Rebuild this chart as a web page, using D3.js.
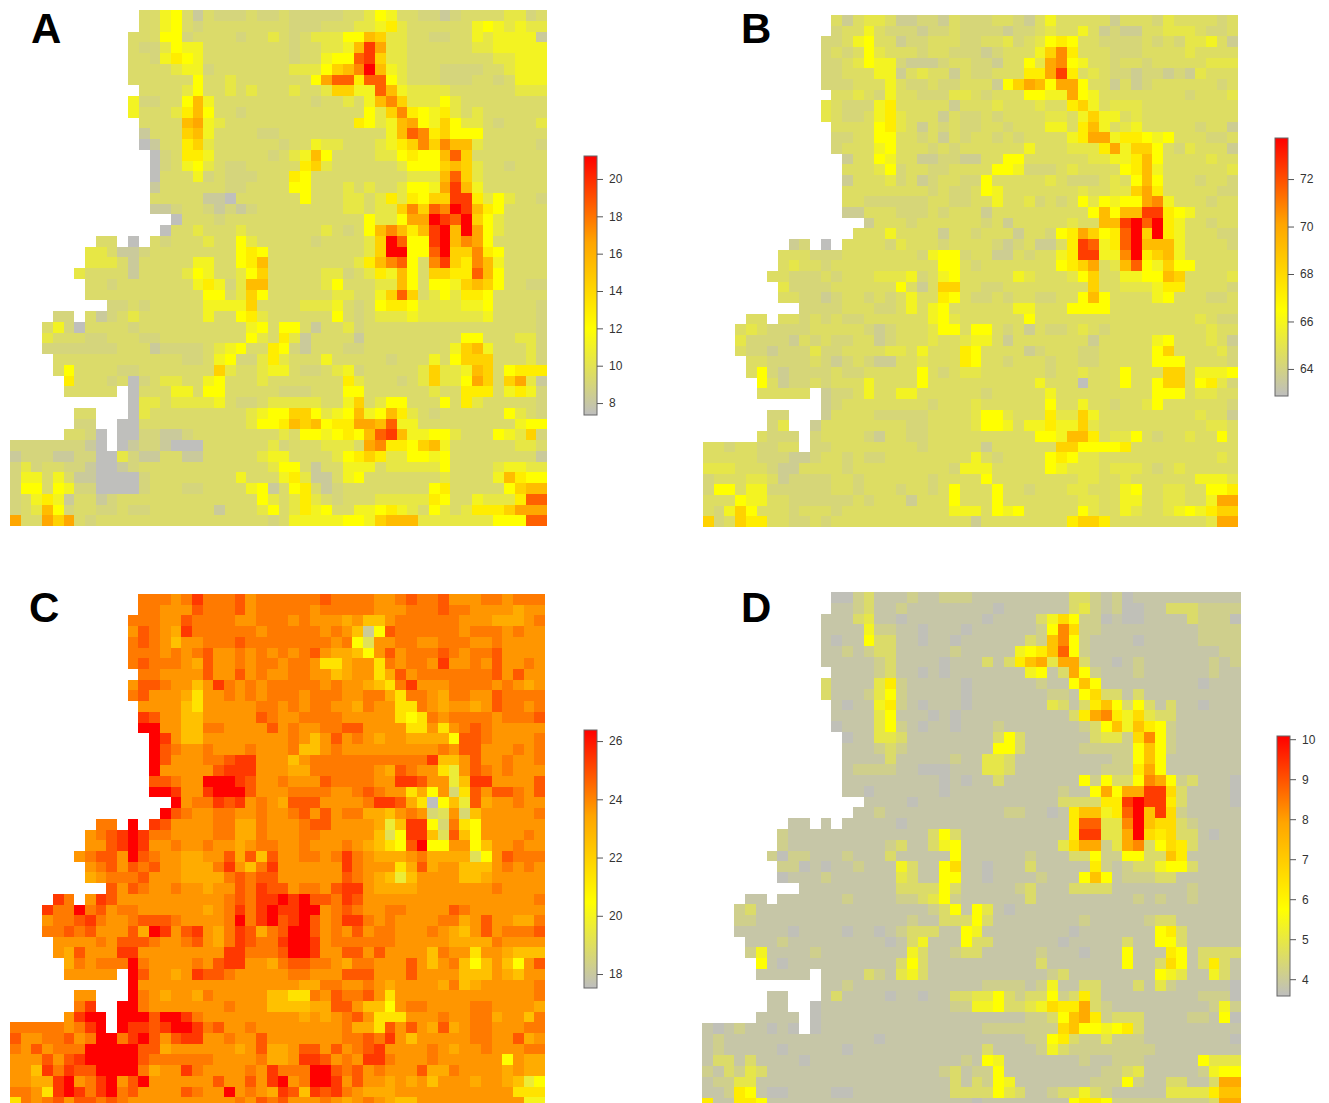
<!DOCTYPE html>
<html>
<head>
<meta charset="utf-8">
<title>Four gridded maps</title>
<script src="https://cdn.jsdelivr.net/npm/d3@7"></script>
<style>
html, body { margin: 0; padding: 0; background: #fff; overflow: hidden; }
svg { display: block; }
.letter { font-family: "Liberation Sans", Arial, sans-serif; font-weight: bold; font-size: 42px; fill: #000; }
.tick text { font-family: "Liberation Sans", Arial, sans-serif; font-size: 12px; fill: #333; }
.tick line { stroke: #555; }
</style>
</head>
<body>
<div id="chart"></div>
<script>
// each row is 50 cells, split in groups of 10. "." = no data, other chars index the levels array of that panel
var levelCodes = "0123456789abcde";

var levelsA = [7.4, 8.2, 9.0, 9.4, 10.3, 11.1, 12.0, 12.9, 14.3, 15.4, 16.5, 17.4, 18.5, 19.6, 21.2];
var levelsB = [62.9, 63.7, 64.2, 64.6, 65.1, 65.8, 66.5, 67.2, 68.3, 69.2, 70.0, 70.7, 71.6, 72.4, 73.7];
var levelsC = [17.5, 18.1, 18.7, 19.1, 19.6, 20.0, 20.5, 21.4, 22.5, 23.2, 23.7, 24.2, 24.8, 25.4, 26.4];
var levelsD = [3.65, 3.84, 4.15, 4.55, 4.9, 5.35, 5.75, 6.2, 6.6, 7.2, 7.8, 8.3, 8.8, 9.3, 10.1];

var ticksA = [8, 10, 12, 14, 16, 18, 20];
var ticksB = [64, 66, 68, 70, 72];
var ticksC = [18, 20, 22, 24, 26];
var ticksD = [4, 5, 6, 7, 8, 9, 10];

var gridA = [
".......... ..33563132 2232232222 2334653322 1233334423",
".......... ..33563233 3333332223 3344574333 3335654544",
".......... .333662333 3233432344 4669844332 2335455551",
".......... .322465533 3333332334 459da44333 3334455555",
".......... .332576533 3333332335 66cd844333 3333344555",
".......... .333345523 3333334446 89be954333 2222334555",
".......... .333333633 433333336a cc7cc64333 2223323555",
".......... ..33334633 4343334334 8855c95444 4333333444",
".......... .522336953 3333333323 34359b8444 6433333333",
".......... .533347963 3233333333 333648b765 7434333333",
".......... ..33339a54 3333333333 3376459a65 8644323334",
".......... ..13338953 3332233333 3333359cb7 8666333333",
".......... ..01337843 3333323354 43334578b8 b994333332",
".......... ...0237753 3333234596 3333446766 9c83333333",
".......... ...0235643 2233333784 3333334666 8984332333",
".......... ...0333523 2223337633 3333333444 9c84333333",
".......... ...1333333 2233336633 3434334665 ad95333333",
".......... ...3333311 0333333633 3443474768 8dd7464332",
".......... ...1123321 2123333333 3443448b8c bed9763333",
".......... .....03332 3333333333 3336446aae dce8643333",
".......... ....033433 3433333334 32369b979d e9ea643333",
"........33 .0.3233343 3643333323 33348ec66d e9ba633333",
".......443 1123333333 3676333333 33348ee66c e88b763333",
".......444 3133333553 3679333333 33479bc63b d87b953333",
"......4333 3133334653 3468333334 4234759638 877c963333",
".......332 3333333575 2499333334 6333449636 6589863322",
".......333 3333333366 3486333333 443358c834 6477633333",
".........2 2323333355 5583333444 5323677644 4455633332",
"....22.312 3433333353 3674333333 6323444544 4444533332",
"...3520333 3233333333 3356366313 3423333333 3333333332",
"...4333223 3322333333 3364374133 3313333333 3366333442",
"...2222222 3331222234 5633762133 3223333333 3589533342",
"....333333 3333332235 6224743335 3333323335 3688833342",
"....363333 2233333338 4334553223 4523333348 4459836777",
".....73332 3023443356 3334333333 3743332348 446a838a41",
".....33333 .033355366 3333322233 3663333334 3377735752",
".......... .044344445 3223444443 3583466333 6374333332",
"......33.. .043333333 3345668864 5695697432 3333336432",
"......22.. 0033333333 3346679896 77aa9c5533 3333333566",
".....3320. 0022112333 3333343665 6769cd9556 6433365482",
"222222210. 0122100033 3333423334 443ab77689 5333333443",
"1222112200 4211331133 3334553333 4678744665 6333333331",
"2423322100 1233333333 3333466313 3555344444 6333345544",
"2553531100 0023333333 3533357411 3563333333 4333359766",
"2663652200 0023332233 3356136731 2333333336 7333336899",
"2357513312 3333333333 3336434743 2333444447 63354447cc",
"2349623322 3223333331 3334634756 3355675436 4347778aaa",
"a33a8a3233 3333333333 3333235555 5665899944 44444666cc"
];

var gridB = [
".......... ..31344311 2213222332 1353333313 3324333323",
".......... ..23353222 1223222212 2343353121 1334443223",
".......... .223563312 2333223342 3467633222 2323244531",
".......... .232364333 2332221233 358b733322 2333343333",
".......... .223465521 1123322133 64ab653323 3233333444",
".......... .223335513 4331322333 77ad734322 1221214333",
".......... .222333532 2322333168 a96aa63313 1233333323",
".......... ..33432533 2224432333 6655a65333 3333323334",
".......... .432225733 3331333433 3433785344 4333333333",
".......... .432235743 3313223233 3344358553 4333333333",
".......... ..33336743 1323223323 3355379534 5333332331",
".......... ..22336633 2313233232 333357aa57 7656333223",
".......... ..23335633 3232333333 53334447a5 8863243331",
".......... ...1336533 1122113366 3333334455 7963333433",
".......... ...3334623 3223333665 2223433336 7953333334",
".......... ...1333423 1233226333 3343222343 6963332332",
".......... ...3333333 3232236533 3333343344 8a73333322",
".......... ...3322222 2332233533 4232364656 6ab5333233",
".......... ...1133322 2323331333 3333336969 9dd7653333",
".......... .....13332 3333332313 333343399d ece7533233",
".......... ....333533 3313323331 33267a867c e8e7533322",
"........12 .0.3333243 3323333212 31137dc57c e999533332",
".......333 2223333333 2566233113 23357dd55b e789533333",
".......343 3233333333 3366323333 333678a349 c658663333",
"......3322 2323334445 2356333335 4333468335 5669833334",
".......422 2233333363 1388332233 3333338334 4457733332",
".......332 2123323235 3376322323 3223369633 3356333223",
".........2 2223332235 3563333335 5333666633 3333333333",
"....33.332 3232233333 3564333333 6333333333 3333334322",
"...3432222 3333321233 3466366323 1322343233 3333333433",
"...4222213 2322331233 3433455313 3333331333 3356333431",
"...3221222 4223333443 5333763333 1233322333 3368333342",
"....332222 3212321133 4333763323 3323322333 3366633332",
"....362122 2232233333 6323443333 3323343336 3338835556",
".....63122 3233353333 6333333333 3533303336 3368836742",
".....33333 .122353355 3333332333 3353333333 3366634433",
".......... .123333333 3233343333 3363353323 3463333332",
"......22.. .133332222 2333346643 3374485333 3333334331",
"......24.. 1333333332 2333346653 5575584333 3333333443",
".....3222. 2333321332 2333333333 3665997344 6323343363",
"332332233. 2233333333 2333331333 3338866667 3333333333",
"3333322211 2332322333 3333353233 3367644333 3333333343",
"4443332113 3332333333 3332555333 3365444344 4323433333",
"2333443122 2233233333 3233336333 3333344334 3333335554",
"2663552222 2233233323 3236333633 2333443335 6334433667",
"3336553322 2222323331 3336333633 3333344335 53344335aa",
"3258633323 3323333333 3335553656 3333364335 4334565788",
"8238773322 3233333333 3333313333 3333788733 33333334aa"
];

var gridC = [
".......... ..bbbabdbb bcabbbbbbc bbbbaabcbb caaabbabbb",
".......... ..bbaaacbb bcabbbbbab bbbbaaabbb cbbaaaa9aa",
".......... .bbbaacbbb baabbbabaa a9a88abbbb bbaaa999ab",
".......... .acba9dbbb bbbabbbbba ba816cbbbb bbabbbabaa",
".......... .bcba8aabb bcbbbbbbbb ab63aabbaa bbbaabaaaa",
".......... .bbbababca ababababca 9986acabbb cbabbcaaaa",
".......... .bcbbba9ca ababbabba7 79aa7babba daabacaaba",
".......... ..bbaaaaca acabaabbaa 89aa79cabb bbbbbcacaa",
".......... .accbaa8ad bababbbbba baa987bdaa abbbbaba9a",
".......... .bcaaa97aa bababbbabb baabb97bba 9bbaacbbbb",
".......... ..aaaa87aa aaabbababb aa9baa77ba 9aa9acbbab",
".......... ..dcaa88aa aaacbaabbb baaaaa767b abbbbabbbc",
".......... ..eeaa88bb aaaacabaab bccaaaa77a 7abcbaaaaa",
".......... ...eda88aa aaaaaaba8a caba9aa999 96ccbaaaab",
".......... ...ecbaaba aabaaab88a baaaaaaaaa baccaaabab",
".......... ...ecaaabb cddaaa8abb bbbbbbbbbd 88acaabaab",
".......... ...eaaaaac dddaaa99bb bbbba9cbaa 74acbabaaa",
".......... ...ccbaaee edcaabaaac bbbbaaddca a48ddaaaac",
".......... ...eedaade eecaaabbbb aabcbaa796 a27caccbac",
".......... .....eabbd cdaba9ccca aaabddc970 684c9aabaa",
".......... ....ecbaab baabaabcac abb998aba2 3a28aaaaab",
"........bb .e.dcaaaab b99baaabcc aaaa948dd6 2b76aaaaaa",
".......abc dedbbaaaab b99baaabba aaaa836dd8 3c86aaaaba",
".......aac dedaabaaba a9abbaabaa aba9876ce6 6aa68aabaa",
"......abcc aecbaa99aa c9c8caabba bdba999ab9 99936acbbb",
".......abc acbcaa999b da8bdaaaaa adbaaa79c9 aa888ababa",
".......9ab bbcaaa9999 bcbccaaaaa acba9848aa aa889aaaaa",
".........c acbaabaa9a acbdccabba cdda9999aa aaaaabaaaa",
"....db.adc aaaaaaaaaa bcbddedecc bdcaaaaaaa aaaaaaaaab",
"...dbbebca bbaaaaaa9a bdbdeddeea bcbaabbaaa acbaaaaaaa",
"...abbcdba abcccbaaaa bebdecdeca bddbabaaaa bb9acaa99b",
"...bbcbcaa ac9edacda9 bdc9bceeca bacabbaaab a98acabbbc",
"....aaaaba cccbaabca9 bdcbbdeeda bbbbbbaaaa a9999baaaa",
"....a9caaa ddaaaaaaaa ddbbbceeda accacaaaa8 baa7aa9888",
".....9babb bebaaaabac ddaa9bccbb a9bbaaaca8 ab868a86ac",
".....aaaaa .ecaa9adcc baaaaabbaa acccaaacaa aa888a98aa",
".......... .eaaaaaaaa aaaaaaa99b baaba9aaaa 9b89aaaaab",
"......aa.. .eba9aa9ba aaaa8877ba cbbca7aaaa aaaaaaaaab",
"......bd.. eebaaaaaaa baaa888899 cca886abba aaabbaaaa9",
".....adee. eeeceedbaa aaaaaaa9a9 abca777aaa baabb9aa8b",
"bbbbbabde. eddcdeedbc aabaaaaaaa ab997caca9 c9abbaaabb",
"caabbcabee bdecacddaa baacaaaaaa abbcbda8aa aaabbaac9a",
"bacabbbeee eecc9aaaaa a9ac99acca cabcdaaaab a9aabaaabb",
"aaacacdeee eecbbbbbba aaab99addc abaddbaaab aaaaaa6a99",
"aa8dbdccee eeb9aadbaa aabadbbbee cbcabaaac9 9baaaa9a99",
"aa99deabde aceaaaaaac aacadeabee dacaa9a9a8 aaa9aa9846",
"bba7dedbde bcaaaacbaa eaba9dc8dc dba999aaaa aaaaaaa777",
"7babcaccbc baaaaaaaaa abacbcaaab a9aba988aa aaaaaaaa55"
];

var gridD = [
".......... ..00231112 1122211111 1111332120 1111111111",
".......... ..11231121 1111111011 1111342120 0113332222",
".......... .111341101 1111110111 1358622010 0111132220",
".......... .111152211 0111011111 126b822111 1111112222",
".......... .101163311 0110111111 329b621111 0111112222",
".......... .112123311 1112111115 679c621111 1111111122",
".......... .111112311 1101113137 9a4aa31101 2111111212",
".......... ..11112311 0101111111 5613a62111 2111111211",
".......... .311114721 1111011111 1211696111 1111110111",
".......... .311124621 1111011111 1122168331 3111111111",
".......... ..10115721 0111011111 1143137963 6313110111",
".......... ..11114611 1010111111 111137ab75 8433111111",
".......... ..01114621 0110111211 1111123695 9762111111",
".......... ...0114431 1111111363 1111113442 8b62111111",
".......... ...1112321 1111111663 1111122222 6962111111",
".......... ...1111311 1112114431 1111111122 6961111111",
".......... ...1222211 0001114431 1111111222 7a61111111",
".......... ...1111111 1101011311 1111162633 6ba6231110",
".......... ...1101111 1101111111 1112116a6a add8311110",
".......... .....11110 1111111111 111333377d edd7311110",
".......... ....112111 1111111122 110179957c e9d8211111",
"........11 .1.1111101 1111111111 11117cc44b e988321111",
".......211 1111111111 1363111111 11117dd44a e878331011",
".......211 1111111231 1356111111 11148aa24a b368731111",
"......2022 1112111311 1116111111 2111336226 6339711111",
".......220 1011211153 1168110111 3111117212 3356631111",
".......011 1211111143 1166110111 1211169612 2233111111",
".........1 1111111133 3363111112 3111333311 1111121111",
"....11.111 1112111122 3462111111 3111111111 2121121111",
"...2311111 1111111111 1236164101 1111111111 1111111111",
"...2211111 1111111112 1133363111 1111121111 1233111111",
"...1111101 1110110123 3311651111 1111011111 1167311111",
"....111211 1111111013 5111633111 1110111113 1166311111",
"....251111 2111111115 3112331111 1211101116 1117613333",
".....61011 1111111136 3111111111 1311111116 1138613731",
".....11111 .111132145 3111111111 1123111111 1165411531",
".......... .112111111 1111112222 1251133111 3142111110",
"......11.. .131111011 0113344632 3362373111 1111112220",
"......11.. 0111111111 1112255633 45877a3211 1111111252",
".....1111. 0111111111 1111111111 22369a7233 3111122160",
"101211010. 0111111111 1111112222 2228966567 3111111111",
"1211111111 1111110111 1111111111 2267322422 2111111110",
"1211111011 1110111111 1111113111 1253222222 2211111111",
"1331311110 1111111111 1111216511 1111121122 2111116444",
"2132431111 1111111111 1123122611 1111111223 4111112566",
"1224411111 1111111111 1113132651 1111112226 21133113aa",
"1127610011 1100111111 1113333643 1123353211 1114444799",
"7117761111 1111111111 1111101111 1111677622 22222223aa"
];

var panels = [
  {name: "A", grid: gridA, levels: levelsA, ticks: ticksA, min: 7.36, max: 21.23,
   box: [10, 547, 10, 526], bar: [584, 597, 156, 415], lx: 31, ly: 43},
  {name: "B", grid: gridB, levels: levelsB, ticks: ticksB, min: 62.86, max: 73.73,
   box: [703, 1238, 15, 527], bar: [1275, 1288, 138, 396], lx: 741, ly: 43},
  {name: "C", grid: gridC, levels: levelsC, ticks: ticksC, min: 17.52, max: 26.38,
   box: [10, 545, 594, 1108], bar: [584, 597, 730, 988], lx: 29, ly: 622},
  {name: "D", grid: gridD, levels: levelsD, ticks: ticksD, min: 3.58, max: 10.08,
   box: [702, 1241, 592, 1109], bar: [1277, 1290, 736, 996], lx: 741, ly: 622}
];

var ramp = ["#bebebe", "#ffff00", "#ffa500", "#ff0000"];

var svg = d3.select("#chart").append("svg")
  .attr("width", 1329)
  .attr("height", 1103);

var defs = svg.append("defs");

// the source picture is a resampled bitmap, cell edges are a bit soft
defs.append("filter")
  .attr("id", "soft")
  .append("feGaussianBlur")
  .attr("stdDeviation", 0.6);

panels.forEach(function(p) {
  var cells = [];
  p.grid.forEach(function(row, r) {
    var s = row.replace(/ /g, "");
    if (s.length != 50) throw new Error("panel " + p.name + " row " + r + " has " + s.length);
    for (var c = 0; c < 50; c++) {
      if (s[c] != ".") cells.push({r: r, c: c, value: p.levels[levelCodes.indexOf(s[c])]});
    }
  });

  var x = d3.scaleBand().domain(d3.range(50)).range([p.box[0], p.box[1]]);
  var y = d3.scaleBand().domain(d3.range(p.grid.length)).range([p.box[2], p.box[3]]);
  var span = p.max - p.min;
  var color = d3.scaleLinear()
    .domain([p.min, p.min + span / 3, p.min + span * 2 / 3, p.max])
    .range(ramp)
    .clamp(true);

  var g = svg.append("g").attr("filter", "url(#soft)");
  g.selectAll("rect")
    .data(cells)
    .enter()
    .append("rect")
    .attr("x", function(d) { return x(d.c); })
    .attr("y", function(d) { return y(d.r); })
    .attr("width", x.bandwidth())
    .attr("height", y.bandwidth())
    .attr("shape-rendering", "crispEdges")
    .style("fill", function(d) { return color(d.value); });

  svg.append("text")
    .attr("class", "letter")
    .attr("x", p.lx)
    .attr("y", p.ly)
    .text(p.name);

  // legend
  var grad = defs.append("linearGradient")
    .attr("id", "grad" + p.name)
    .attr("x1", 0).attr("x2", 0).attr("y1", 1).attr("y2", 0);
  ramp.forEach(function(col, i) {
    grad.append("stop").attr("offset", i / 3).attr("stop-color", col);
  });

  var barScale = d3.scaleLinear().domain([p.min, p.max]).range([p.bar[3], p.bar[2]]);
  svg.append("rect")
    .attr("x", p.bar[0])
    .attr("y", p.bar[2])
    .attr("width", p.bar[1] - p.bar[0])
    .attr("height", p.bar[3] - p.bar[2])
    .style("fill", "url(#grad" + p.name + ")")
    .style("stroke", "#666")
    .style("stroke-width", 1);

  var axis = svg.append("g")
    .attr("transform", "translate(" + p.bar[1] + ",0)")
    .call(d3.axisRight(barScale).tickValues(p.ticks).tickFormat(d3.format("d")).tickSize(6).tickPadding(6));
  axis.select(".domain").remove();
});
</script>
</body>
</html>
